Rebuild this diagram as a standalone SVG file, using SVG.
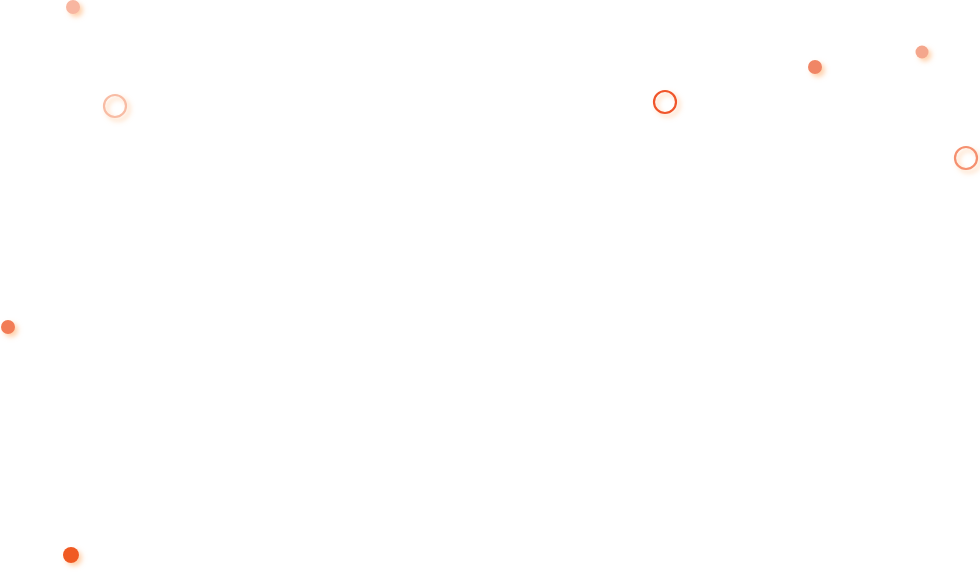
<svg xmlns="http://www.w3.org/2000/svg" width="980" height="576" viewBox="0 0 980 576">
<defs>
<filter id="glow" x="-100%" y="-100%" width="300%" height="300%">
<feDropShadow dx="3" dy="3" stdDeviation="2.5" flood-color="#ffb070" flood-opacity="0.6"/>
</filter>
</defs>
<style>.r{fill:none;stroke-width:2.2}</style>
<rect width="980" height="576" fill="#ffffff"/>
<g filter="url(#glow)">
<circle cx="73" cy="7" r="7" fill="#f8b6a0"/>
<circle class="r" cx="115" cy="106" r="11" stroke="#f8bca4"/>
<circle class="r" cx="665" cy="102" r="11" stroke="#f0552a"/>
<circle cx="815" cy="67" r="7" fill="#f08666"/>
<circle cx="922" cy="52" r="6.5" fill="#f4a68c"/>
<circle class="r" cx="966" cy="158" r="11" stroke="#f5906f"/>
<circle cx="8" cy="327" r="7" fill="#f27c56"/>
<circle cx="71" cy="555" r="8" fill="#f05a24"/>
</g>
</svg>
